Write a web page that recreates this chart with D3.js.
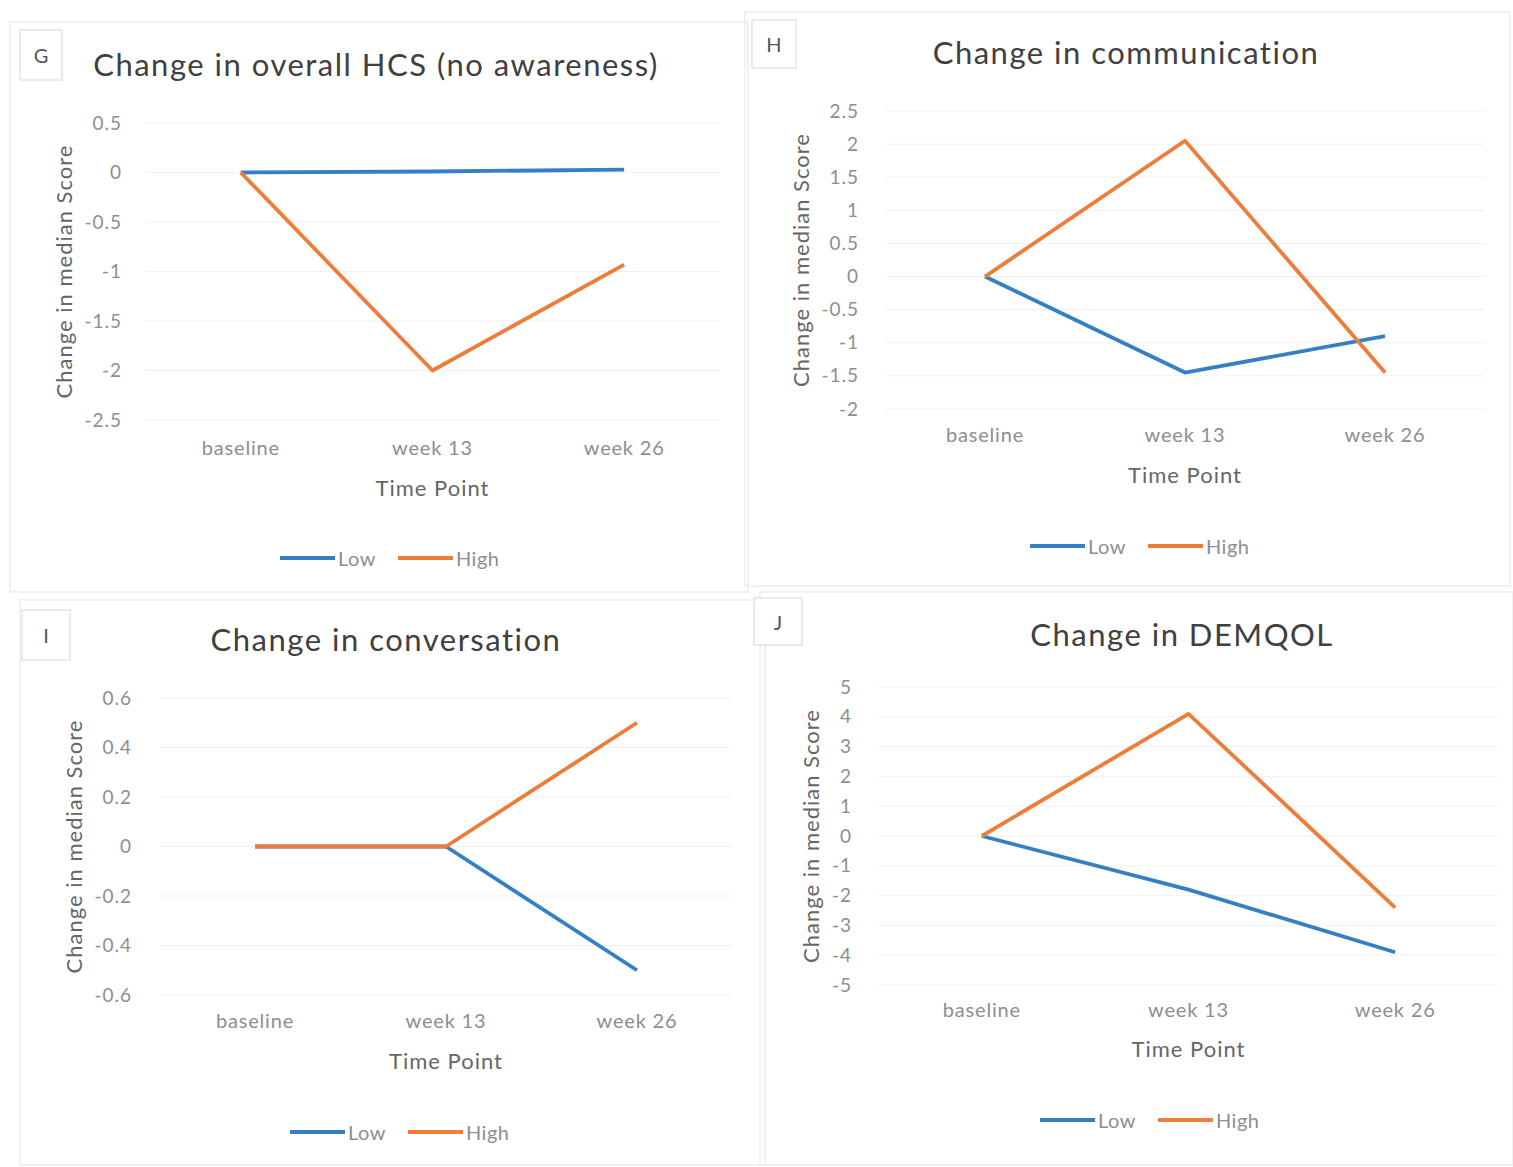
<!DOCTYPE html>
<html>
<head>
<meta charset="utf-8">
<script src="https://cdn.jsdelivr.net/npm/d3@7"></script>
<style>
  html, body { margin: 0; padding: 0; background: #fff; }
  svg { display: block; font-family: Lato, "Open Sans", sans-serif; }
</style>
</head>
<body>
<svg id="chart" width="1513" height="1167"></svg>
<script>
// Time points shared by all four panels
const timePoints = ["baseline", "week 13", "week 26"];
const seriesNames = ["Low", "High"];

// G: change in overall HCS (no awareness)
const hcsLow = [0, 0.01, 0.03];
const hcsHigh = [0, -2, -0.93];
const hcsTicks = [0.5, 0, -0.5, -1, -1.5, -2, -2.5];

// H: change in communication
const commLow = [0, -1.45, -0.9];
const commHigh = [0, 2.05, -1.45];
const commTicks = [2.5, 2, 1.5, 1, 0.5, 0, -0.5, -1, -1.5, -2];

// I: change in conversation
const convLow = [0, 0, -0.5];
const convHigh = [0, 0, 0.5];
const convTicks = [0.6, 0.4, 0.2, 0, -0.2, -0.4, -0.6];

// J: change in DEMQOL
const demqolLow = [0, -1.8, -3.9];
const demqolHigh = [0, 4.1, -2.4];
const demqolTicks = [5, 4, 3, 2, 1, 0, -1, -2, -3, -4, -5];

const colors = { Low: "#3480c3", High: "#ee7d3a" };
const FONT = "Lato, 'Open Sans', sans-serif";

const panels = [
  {
    letter: "G", title: "Change in overall HCS (no awareness)",
    low: hcsLow, high: hcsHigh, ticks: hcsTicks,
    frame: [10, 22, 748, 592], box: [20, 30, 42, 50],
    titleX: 376, titleY: 76,
    xRange: [145, 720], yRange: [420, 123], tickX: 122,
    xLabelY: 449, xTitleY: 487, yTitleX: 63, legendX: 390, legendY: 558
  },
  {
    letter: "H", title: "Change in communication",
    low: commLow, high: commHigh, ticks: commTicks,
    frame: [745, 12, 1510, 586], box: [752, 20, 44, 48],
    titleX: 1126, titleY: 64,
    xRange: [885, 1485], yRange: [409, 111], tickX: 859,
    xLabelY: 436, xTitleY: 474, yTitleX: 800, legendX: 1140, legendY: 546
  },
  {
    letter: "I", title: "Change in conversation",
    low: convLow, high: convHigh, ticks: convTicks,
    frame: [20, 600, 765, 1165], box: [22, 610, 48, 50],
    titleX: 386, titleY: 651,
    xRange: [159.5, 732.5], yRange: [995, 698], tickX: 132,
    xLabelY: 1022, xTitleY: 1060, yTitleX: 73, legendX: 400, legendY: 1132
  },
  {
    letter: "J", title: "Change in DEMQOL",
    low: demqolLow, high: demqolHigh, ticks: demqolTicks,
    frame: [760, 592, 1513, 1165], box: [754, 598, 48, 47],
    titleX: 1182, titleY: 646,
    xRange: [878.5, 1498.5], yRange: [985, 687], tickX: 852,
    xLabelY: 1011, xTitleY: 1048, yTitleX: 810, legendX: 1150, legendY: 1120
  }
];

const svg = d3.select("#chart");

panels.forEach(p => {
  const g = svg.append("g");

  // chart frame
  g.append("rect")
    .attr("x", p.frame[0]).attr("y", p.frame[1])
    .attr("width", p.frame[2] - p.frame[0]).attr("height", p.frame[3] - p.frame[1])
    .attr("fill", "none").attr("stroke", "#ededed").attr("stroke-width", 1.5);

  // panel letter box
  g.append("rect")
    .attr("x", p.box[0]).attr("y", p.box[1])
    .attr("width", p.box[2]).attr("height", p.box[3])
    .attr("fill", "#fff").attr("stroke", "#e4e4e4").attr("stroke-width", 1.5);
  g.append("text")
    .attr("x", p.box[0] + p.box[2] / 2).attr("y", p.box[1] + p.box[3] / 2)
    .attr("text-anchor", "middle").attr("dominant-baseline", "central")
    .attr("font-size", 20).attr("fill", "#555")
    .text(p.letter);

  // title
  g.append("text")
    .attr("x", p.titleX).attr("y", p.titleY)
    .attr("text-anchor", "middle")
    .attr("font-size", 31).attr("letter-spacing", 1.5).attr("fill", "#404040")
    .text(p.title);

  const x = d3.scaleBand().domain(timePoints).range(p.xRange);
  const y = d3.scaleLinear().domain(d3.extent(p.ticks)).range(p.yRange);
  const cx = d => x(d) + x.bandwidth() / 2;

  // horizontal gridlines
  g.append("g").selectAll("line").data(p.ticks).join("line")
    .attr("x1", p.xRange[0]).attr("x2", p.xRange[1])
    .attr("y1", d => y(d)).attr("y2", d => y(d))
    .attr("stroke", "#f1f1f1").attr("stroke-width", 1);

  // value axis labels
  const yAxis = d3.axisLeft(y).tickValues(p.ticks).tickSize(0).tickPadding(0)
    .tickFormat(d => String(d));
  const ya = g.append("g").attr("transform", `translate(${p.tickX},0)`).call(yAxis);
  ya.select(".domain").remove();
  ya.selectAll("text").attr("font-size", 19).attr("letter-spacing", 1)
    .attr("fill", "#8e8e8e").attr("font-family", FONT);

  // category axis labels
  const xAxis = d3.axisBottom(x).tickSize(0).tickPadding(0);
  const xa = g.append("g").attr("transform", `translate(0,${p.xLabelY})`).call(xAxis);
  xa.select(".domain").remove();
  xa.selectAll("text").attr("font-size", 20).attr("letter-spacing", 0.8)
    .attr("fill", "#8e8e8e").attr("dy", "0.32em").attr("font-family", FONT);

  // axis titles
  g.append("text")
    .attr("x", (p.xRange[0] + p.xRange[1]) / 2).attr("y", p.xTitleY)
    .attr("text-anchor", "middle").attr("dominant-baseline", "central")
    .attr("font-size", 22).attr("letter-spacing", 1).attr("fill", "#666")
    .text("Time Point");
  g.append("text")
    .attr("transform", `translate(${p.yTitleX},${(p.yRange[0] + p.yRange[1]) / 2}) rotate(-90)`)
    .attr("text-anchor", "middle").attr("dominant-baseline", "central")
    .attr("font-size", 22).attr("letter-spacing", 1).attr("fill", "#666")
    .text("Change in median Score");

  // data lines
  const line = d3.line().x((d, i) => cx(timePoints[i])).y(d => y(d));
  [["Low", p.low], ["High", p.high]].forEach(([name, vals]) => {
    g.append("path").datum(vals)
      .attr("d", line)
      .attr("fill", "none")
      .attr("stroke", colors[name])
      .attr("stroke-width", 3.8)
      .attr("stroke-linejoin", "round");
  });

  // legend
  const leg = g.append("g").attr("transform", `translate(${p.legendX - 110},${p.legendY})`);
  const items = leg.selectAll("g").data(seriesNames).join("g")
    .attr("transform", (d, i) => `translate(${i * 118},0)`);
  items.append("line")
    .attr("x1", 0).attr("x2", 55).attr("y1", 0).attr("y2", 0)
    .attr("stroke", d => colors[d]).attr("stroke-width", 4);
  items.append("text")
    .attr("x", 58).attr("y", 0).attr("dominant-baseline", "central")
    .attr("font-size", 20).attr("letter-spacing", 0.5).attr("fill", "#8e8e8e")
    .text(d => d);
});
</script>
</body>
</html>
